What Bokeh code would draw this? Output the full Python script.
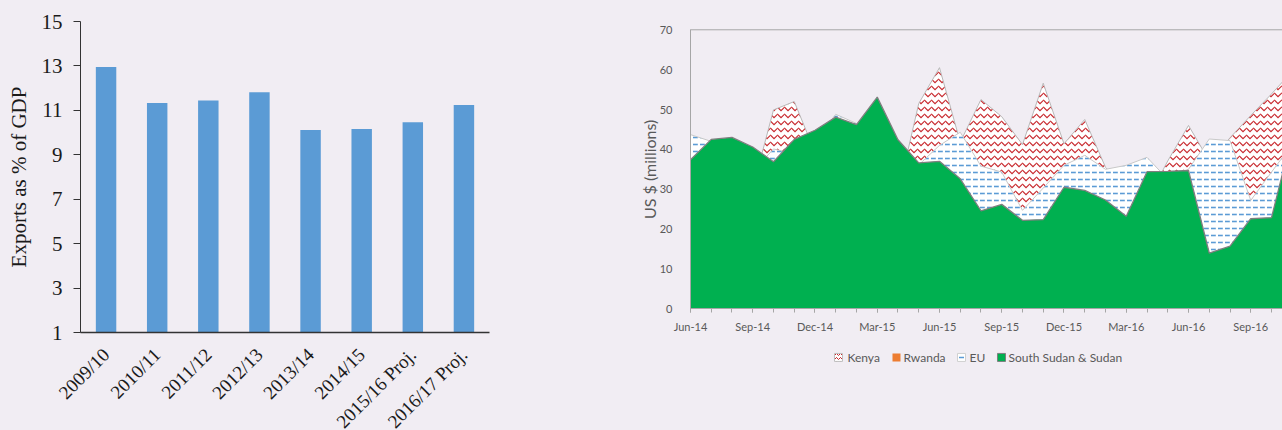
from math import pi
from bokeh.plotting import figure
from bokeh.layouts import row
from bokeh.models import (Range1d, FactorRange, FixedTicker, ColumnDataSource)
from bokeh.core.properties import value
from bokeh.embed import file_html
from bokeh.resources import INLINE

BG = "#F1EDF3"

# ---- Exports as share of GDP ----
years = ["2009/10", "2010/11", "2011/12", "2012/13", "2013/14", "2014/15",
         "2015/16 Proj.", "2016/17 Proj."]
exports_pct_gdp = [12.95, 11.33, 11.44, 11.81, 10.12, 10.16, 10.47, 11.24]
pct_ticks = [1, 3, 5, 7, 9, 11, 13, 15]

# ---- Monthly exports by destination, US$ millions ----
months = ["Jun-14", "Jul-14", "Aug-14", "Sep-14", "Oct-14", "Nov-14", "Dec-14",
          "Jan-15", "Feb-15", "Mar-15", "Apr-15", "May-15", "Jun-15", "Jul-15",
          "Aug-15", "Sep-15", "Oct-15", "Nov-15", "Dec-15", "Jan-16", "Feb-16",
          "Mar-16", "Apr-16", "May-16", "Jun-16", "Jul-16", "Aug-16", "Sep-16",
          "Oct-16", "Nov-16"]
kenya = [30.0, 28.0, 31.0, 30.2, 49.9, 52.0, 39.3, 36.0, 33.0, 31.0, 28.9, 51.5,
         60.5, 41.8, 52.5, 48.2, 41.2, 56.6, 41.4, 47.5, 35.5, 30.0, 27.2, 37.1,
         46.0, 37.1, 42.9, 48.5, 53.9, 59.6]
rwanda = [2.1, 1.8, 2.4, 2.0, 2.6, 2.2, 1.9, 2.3, 2.5, 2.0, 1.7, 2.2, 2.4, 2.1,
          1.9, 2.3, 2.0, 2.6, 2.2, 1.8, 2.1, 2.4, 2.0, 1.9, 2.3, 2.2, 2.0, 2.5,
          2.1, 2.3]
eu = [43.7, 42.0, 38.0, 34.4, 40.1, 38.9, 42.0, 48.8, 46.5, 40.0, 38.0, 36.1,
      41.0, 44.3, 35.8, 34.3, 24.7, 30.3, 36.0, 38.5, 35.0, 36.0, 38.0, 32.5,
      35.0, 42.6, 42.2, 27.2, 34.3, 41.3]
sudan = [37.4, 42.5, 43.0, 40.6, 36.9, 42.5, 44.8, 48.1, 46.2, 53.1, 42.4, 36.6,
         37.0, 32.6, 24.6, 26.2, 22.2, 22.4, 30.5, 29.7, 27.3, 23.2, 34.4, 34.5,
         34.7, 14.0, 15.7, 22.6, 22.9, 43.7]
usd_ticks = [0, 10, 20, 30, 40, 50, 60, 70]
usd_max = 70
series_names = ["Kenya", "Rwanda", "EU", "South Sudan & Sudan"]

# ================= bar chart =================
left = figure(frame_width=409, frame_height=311, title=None,
              x_range=FactorRange(factors=years, range_padding=0),
              y_range=Range1d(1, 15),
              output_backend="svg", toolbar_location=None,
              min_border_left=80, min_border_right=71,
              min_border_top=21, min_border_bottom=98,
              background_fill_color=BG, border_fill_color=BG,
              outline_line_color=None)
left.vbar(x=years, top=exports_pct_gdp, bottom=1, width=0.4,
          fill_color="#5B9BD5", line_color=None)
left.xgrid.visible = False
left.ygrid.visible = False

ya = left.yaxis[0]
ya.ticker = FixedTicker(ticks=pct_ticks)
ya.axis_label = "Exports as % of GDP"
ya.axis_label_text_font = "Liberation Serif"
ya.axis_label_text_font_size = "21px"
ya.axis_label_text_font_style = "normal"
ya.axis_label_text_color = "#1a1a1a"
ya.axis_label_standoff = 8
ya.major_label_text_font = "Liberation Serif"
ya.major_label_text_font_size = "21px"
ya.major_label_text_color = "#1a1a1a"
ya.major_label_standoff = 11
ya.axis_line_color = "#333333"
ya.major_tick_line_color = "#333333"
ya.major_tick_in = 0
ya.major_tick_out = 7
ya.minor_tick_line_color = None

xa = left.xaxis[0]
xa.major_label_orientation = 0.785398
xa.major_label_text_font = "Liberation Serif"
xa.major_label_text_font_size = "19px"
xa.major_label_text_color = "#1a1a1a"
xa.major_label_standoff = 13
xa.axis_line_color = "#333333"
xa.axis_line_width = 1.5
xa.major_tick_line_color = None

# ================= area chart =================
GRAY_TXT = "#595959"
AX = "#A6A6A6"
idx = list(range(len(months)))
src = ColumnDataSource(dict(x=idx, kenya=kenya, rwanda=rwanda, eu=eu, sudan=sudan))

# the drawing box extends left of Jun-14 and below zero so that the axis
# labels, the axis title and the key all live inside it
X_START, X_END = -4.337, 28.53
Y_TOP, Y_BOTTOM = 72.08, -16.73
FRAME_W = 682
right = figure(frame_width=FRAME_W, frame_height=354, title=None,
               x_range=Range1d(X_START, X_END), y_range=Range1d(Y_BOTTOM, Y_TOP),
               output_backend="svg", toolbar_location=None,
               min_border_left=40, min_border_right=0,
               min_border_top=21, min_border_bottom=55,
               background_fill_color=BG, border_fill_color=BG,
               outline_line_color=None)
right.xgrid.visible = False
right.ygrid.visible = False

# series overlap (not stacked): drawn back to front
right.varea(x="x", y1=0, y2="kenya", source=src, fill_color="white",
            hatch_pattern="horizontal_wave", hatch_color="#C8282D",
            hatch_scale=7, hatch_weight=1.2)
right.line("x", "kenya", source=src, line_color="#B8B8B8", line_width=1)
right.varea(x="x", y1=0, y2="rwanda", source=src, fill_color="#ED7D31")
right.varea(x="x", y1=0, y2="eu", source=src, fill_color="white",
            hatch_pattern="horizontal_dash", hatch_color="#5B9BD5",
            hatch_scale=7, hatch_weight=1.6)
right.line("x", "eu", source=src, line_color="#C8C8C8", line_width=1)
right.varea(x="x", y1=0, y2="sudan", source=src, fill_color="#00B050")
right.line("x", "sudan", source=src, line_color="#7F7F7F", line_width=1.3)

# top edge of the plot area
right.line([0, X_END], [usd_max, usd_max], line_color=AX, line_width=1)

bx = right.xaxis[0]
bx.fixed_location = 0
bx.bounds = (0, X_END)
bx.ticker = FixedTicker(ticks=idx[::3], minor_ticks=idx)
bx.major_label_overrides = {i: months[i] for i in idx[::3]}
bx.major_label_text_font = "Lato"
bx.major_label_text_font_size = "11px"
bx.major_label_text_color = GRAY_TXT
bx.major_label_standoff = 7
bx.axis_line_color = AX
bx.major_tick_line_color = AX
bx.minor_tick_line_color = AX
bx.major_tick_in = 0
bx.major_tick_out = 4
bx.minor_tick_in = 0
bx.minor_tick_out = 4

ly = right.yaxis[0]
ly.fixed_location = 0
ly.bounds = (0, usd_max)
ly.ticker = FixedTicker(ticks=usd_ticks)
ly.major_label_text_font = "Lato"
ly.major_label_text_font_size = "11px"
ly.major_label_text_color = GRAY_TXT
ly.major_label_standoff = 12
ly.axis_line_color = AX
ly.major_tick_line_color = None
ly.minor_tick_line_color = None

px = (X_END - X_START) / FRAME_W          # data units per pixel along x

# axis title, centred on the 0-70 span
right.text(x=[-40.5 * px], y=[usd_max / 2], text=["US $ (millions)"], angle=pi / 2,
           text_font=value("Lato"), text_font_size="16px", text_color=GRAY_TXT,
           text_align="center", text_baseline="middle")

# ---- key: swatch + label per series, laid out in pixels from Jun-14
key_y = -12.2
swatch_px = [148, 206, 271, 311]          # swatch centres
label_px = [157, 213, 279, 318]           # label starts
sw_x = [p * px for p in swatch_px]

right.scatter([sw_x[0]], [key_y], marker="square", size=8, fill_color="white",
              line_color="#BFBFBF", hatch_pattern="horizontal_wave",
              hatch_color="#C8282D", hatch_scale=4, hatch_weight=1)
right.scatter([sw_x[1]], [key_y], marker="square", size=8, fill_color="#ED7D31",
              line_color=None)
right.scatter([sw_x[2]], [key_y], marker="square", size=8, fill_color="white",
              line_color="#D0D0D0")
right.scatter([sw_x[2]], [key_y], marker="dash", size=5, line_color="#5B9BD5",
              line_width=1.6)
right.scatter([sw_x[3]], [key_y], marker="square", size=8, fill_color="#00B050",
              line_color="#7F7F7F")
right.text(x=[p * px for p in label_px], y=[key_y] * 4, text=series_names,
           text_font=value("Lato"), text_font_size="12px", text_color=GRAY_TXT,
           text_align="left", text_baseline="middle")

layout = row(left, right, styles={"background-color": BG})

open("out.html", "w").write(file_html(layout, INLINE))
